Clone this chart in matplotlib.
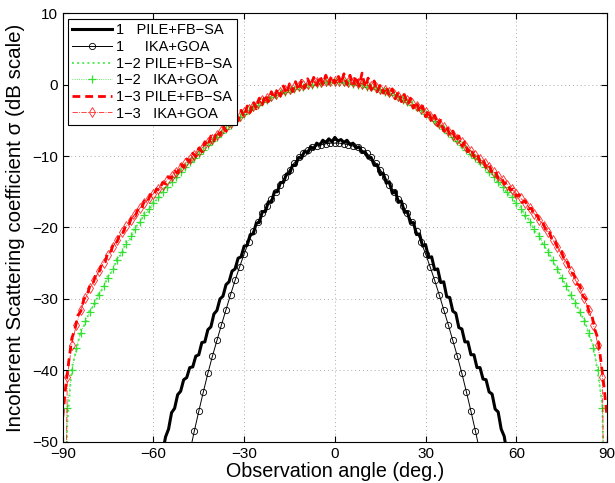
import numpy as np
import matplotlib
matplotlib.use("Agg")
import matplotlib.pyplot as plt

plt.rcParams["font.family"] = ["Liberation Sans", "DejaVu Sans"]
plt.rcParams["axes.unicode_minus"] = True

# angle grids (deg.)
ang_pile1 = np.arange(-57, 58, 1)
ang_pile13 = np.arange(-90, 91, 1)
ang_ika = np.arange(-90, 90.1, 1.5)
ang_ika1 = np.arange(-48, 48.1, 1.5)

# 1  PILE+FB-SA  (dB)
pile_1 = [-51.6, -49.3, -48.2, -45.9, -45.3, -43.4, -42.9, -41.3, -41.0, -39.6,
          -39.5, -38.0, -37.8, -36.1, -36.0, -34.3, -33.9, -32.1, -31.6, -30.0,
          -29.6, -28.0, -27.6, -26.1, -25.8, -24.3, -24.1, -22.6, -22.5, -21.0,
          -20.9, -19.4, -19.3, -17.8, -17.8, -16.4, -16.5, -15.0, -15.0, -13.7,
          -13.7, -12.5, -12.5, -11.3, -11.3, -10.2, -10.3, -9.3, -9.6, -8.7,
          -9.0, -8.2, -8.5, -7.8, -8.1, -7.6, -8.0,
          -7.4,
          -7.9, -7.7, -8.1, -7.8, -8.4, -8.2, -8.9, -8.7, -9.5, -9.4,
          -10.3, -10.2, -11.3, -11.2, -12.6, -12.4, -13.8, -13.6, -15.2, -14.9,
          -16.5, -16.3, -17.9, -17.8, -19.4, -19.3, -21.0, -20.9, -22.6, -22.4,
          -24.2, -24.1, -25.9, -25.8, -27.7, -27.6, -29.7, -29.8, -31.7, -32.0,
          -34.0, -34.2, -36.0, -36.0, -37.8, -37.8, -39.6, -39.6, -41.2, -41.3,
          -43.0, -43.3, -45.4, -45.8, -48.2, -49.2, -51.8]

# 1  IKA+GOA
ika_1 = [-51.5, -48.5, -45.7, -43.0, -40.4, -38.0, -35.8, -33.6, -31.5, -29.4,
         -27.4, -25.5, -23.7, -22.0, -20.5, -19.2, -18.0, -17.0, -16.0, -15.0,
         -14.0, -12.9, -11.9, -11.0, -10.2, -9.6, -9.2, -8.8, -8.6, -8.4,
         -8.3, -8.2,
         -8.2,
         -8.2, -8.3, -8.4, -8.6, -8.8, -9.2, -9.6, -10.2, -11.0, -11.9,
         -12.9, -14.0, -15.0, -16.0, -17.0, -18.0, -19.2, -20.5, -22.0, -23.7,
         -25.5, -27.4, -29.4, -31.5, -33.6, -35.8, -38.0, -40.4, -43.0, -45.7,
         -48.5, -51.5]

# 1-2  PILE+FB-SA
pile_12 = [-100, -47.5, -39.6, -37.2, -34.3, -33.5, -31.4, -31.0, -29.0, -28.6,
           -26.6, -26.2, -24.2, -23.8, -21.9, -21.6, -19.8, -19.6, -17.9, -17.8,
           -16.2, -16.2, -14.6, -14.7, -13.2, -13.3, -11.8, -11.9, -10.5, -10.7,
           -9.3, -9.5, -8.1, -8.3, -6.9, -7.2, -5.8, -6.0, -4.7, -5.0,
           -3.7, -4.0, -2.8, -3.2, -2.0, -2.5, -1.4, -1.9, -0.8, -1.4,
           -0.4, -1.0, 0.0, -0.7, 0.3, -0.4, 0.5, -0.2, 0.7, 0.0,
           0.6,
           0.9, 0.0, 0.8, -0.2, 0.7, -0.4, 0.3, -0.8, -0.1, -1.2,
           -0.5, -1.6, -1.0, -2.2, -1.6, -2.8, -2.3, -3.6, -3.2, -4.5,
           -4.2, -5.5, -5.2, -6.6, -6.4, -7.7, -7.5, -8.9, -8.7, -10.1,
           -9.9, -11.3, -11.1, -12.6, -12.5, -14.0, -13.9, -15.4, -15.4, -17.0,
           -17.0, -18.7, -18.8, -20.6, -20.8, -22.7, -23.0, -25.0, -25.4, -27.4,
           -27.8, -29.8, -30.2, -32.2, -32.7, -35.1, -36.4, -40.5, -44.8, -100]

# 1-2  IKA+GOA
ika_12 = [-100, -45.3, -40.0, -36.8, -34.7, -33.1, -31.8, -30.6, -29.4, -28.2,
          -27.0, -25.8, -24.6, -23.4, -22.3, -21.2, -20.2, -19.2, -18.3, -17.4,
          -16.6, -15.8, -15.0, -14.3, -13.6, -12.9, -12.2, -11.5, -10.9, -10.3,
          -9.7, -9.1, -8.5, -7.9, -7.3, -6.8, -6.2, -5.6, -5.1, -4.6,
          -4.1, -3.6, -3.2, -2.8, -2.4, -2.1, -1.8, -1.5, -1.2, -1.0,
          -0.8, -0.6, -0.4, -0.3, -0.1, 0.0, 0.1, 0.2, 0.3, 0.3,
          0.3,
          0.3, 0.3, 0.2, 0.1, 0.0, -0.1, -0.3, -0.4, -0.6, -0.8,
          -1.0, -1.2, -1.5, -1.8, -2.1, -2.4, -2.8, -3.2, -3.6, -4.1,
          -4.6, -5.1, -5.6, -6.2, -6.8, -7.3, -7.9, -8.5, -9.1, -9.7,
          -10.3, -10.9, -11.5, -12.2, -12.9, -13.6, -14.3, -15.0, -15.8, -16.6,
          -17.4, -18.3, -19.2, -20.2, -21.2, -22.3, -23.4, -24.6, -25.8, -27.0,
          -28.2, -29.4, -30.6, -31.8, -33.1, -34.7, -36.8, -40.0, -45.3, -100]

# 1-3  PILE+FB-SA
pile_13 = [-46.5, -42.2, -38.7, -35.5, -34.3, -32.3, -31.7, -30.0, -29.6, -28.1,
           -27.9, -26.5, -26.3, -24.9, -24.8, -23.4, -23.3, -22.0, -22.0, -20.7,
           -20.7, -19.5, -19.5, -18.3, -18.4, -17.3, -17.4, -16.3, -16.5, -15.4,
           -15.6, -14.6, -14.8, -13.7, -13.9, -12.9, -13.1, -12.1, -12.4, -11.2,
           -11.6, -10.4, -10.8, -9.6, -10.1, -8.9, -9.4, -8.0, -8.6, -7.2,
           -7.9, -6.5, -7.1, -5.8, -6.5, -5.0, -5.8, -4.3, -5.1, -3.6,
           -4.5, -3.0, -3.9, -2.4, -3.4, -1.9, -2.8, -1.4, -2.4, -1.0,
           -2.0, -0.6, -1.6, -0.2, -1.3, 0.1, -1.0, 0.4, -0.8, 0.6,
           -0.5, 0.8, -0.3, 1.0, -0.1, 1.2, 0.0, 1.3, 0.1, 1.2,
           0.2,
           1.3, 0.1, 1.5, 0.0, 1.3, -0.1, 1.2, -0.2, 1.6, -0.4,
           0.9, -0.7, 0.5, -1.0, 0.0, -1.2, -0.3, -1.6, -0.6, -2.0,
           -1.0, -2.4, -1.4, -2.8, -1.9, -3.3, -2.4, -3.9, -3.0, -4.5,
           -3.6, -5.2, -4.3, -5.8, -5.0, -6.5, -5.8, -7.1, -6.5, -7.9,
           -7.2, -8.6, -8.0, -9.4, -8.9, -10.1, -9.6, -10.8, -10.4, -11.6,
           -11.2, -12.4, -12.1, -13.1, -12.9, -13.9, -13.7, -14.8, -14.6, -15.6,
           -15.4, -16.5, -16.3, -17.4, -17.3, -18.4, -18.3, -19.5, -19.5, -20.7,
           -20.7, -22.0, -22.0, -23.3, -23.4, -24.8, -24.9, -26.3, -26.5, -27.9,
           -28.1, -29.6, -30.0, -31.7, -32.3, -34.3, -35.5, -38.7, -42.2, -46.5]

# 1-3  IKA+GOA
ika_13 = [-100, -40.9, -36.4, -33.6, -31.5, -29.9, -28.5, -27.3, -26.1, -24.9,
          -23.8, -22.7, -21.7, -20.7, -19.8, -18.9, -18.1, -17.3, -16.6, -15.9,
          -15.3, -14.6, -14.0, -13.4, -12.8, -12.2, -11.6, -11.0, -10.4, -9.9,
          -9.3, -8.7, -8.1, -7.6, -7.0, -6.5, -5.9, -5.4, -4.9, -4.4,
          -3.9, -3.4, -3.0, -2.6, -2.2, -1.9, -1.6, -1.3, -1.0, -0.8,
          -0.6, -0.4, -0.2, -0.1, 0.1, 0.2, 0.3, 0.4, 0.5, 0.5,
          0.5,
          0.5, 0.5, 0.4, 0.3, 0.2, 0.1, -0.1, -0.2, -0.4, -0.6,
          -0.8, -1.0, -1.3, -1.6, -1.9, -2.2, -2.6, -3.0, -3.4, -3.9,
          -4.4, -4.9, -5.4, -5.9, -6.5, -7.0, -7.6, -8.1, -8.7, -9.3,
          -9.9, -10.4, -11.0, -11.6, -12.2, -12.8, -13.4, -14.0, -14.6, -15.3,
          -15.9, -16.6, -17.3, -18.1, -18.9, -19.8, -20.7, -21.7, -22.7, -23.8,
          -24.9, -26.1, -27.3, -28.5, -29.9, -31.5, -33.6, -36.4, -40.9, -100]

green = "#33e033"

fig = plt.figure(figsize=(6.15, 4.83), dpi=100)
ax = fig.add_axes([0.102, 0.085, 0.885, 0.888])

ax.plot(ang_pile1, pile_1, color="black", lw=2.2, label="1   PILE+FB\u2212SA")
ax.plot(ang_ika1, ika_1, color="black", lw=0.7, marker="o", ms=4.5,
        mfc="none", mew=0.6, label="1     IKA+GOA")
ax.plot(ang_ika, pile_12, color="#55ee55", lw=1.4, ls=":", label="1\u22122 PILE+FB\u2212SA")
ax.plot(ang_ika, ika_12, color=green, lw=0.6, ls=":", marker="+", ms=5.5,
        mew=0.9, label="1\u22122   IKA+GOA")
ax.plot(ang_pile13, pile_13, color="red", lw=2.0, dashes=(2.8, 1.8), label="1\u22123 PILE+FB\u2212SA")
ax.plot(ang_ika, ika_13, color="red", lw=0.6, ls="-.", marker="d", ms=5.5,
        mfc="none", mew=0.6, alpha=0.85, label="1\u22123   IKA+GOA")

ax.set_xlim(-90, 90)
ax.set_ylim(-50, 10)
ax.set_xticks(np.arange(-90, 91, 30))
ax.set_yticks(np.arange(-50, 11, 10))
ax.tick_params(direction="in", top=True, right=True, length=4, labelsize=11)
ax.grid(True, color="#aaaaaa", ls=(0, (1, 3)), lw=0.7)
for s in ax.spines.values():
    s.set_linewidth(0.8)

ax.set_xlabel("Observation angle (deg.)", fontsize=14.2, labelpad=1)
ax.set_ylabel("Incoherent Scattering coefficient \u03c3 (dB scale)", fontsize=14.8, labelpad=5)

leg = ax.legend(loc="upper left", bbox_to_anchor=(0.009, 0.986), borderaxespad=0,
                fontsize=10.5, fancybox=False, framealpha=1, edgecolor="black",
                handlelength=2.75, handletextpad=0.3, labelspacing=0.18, borderpad=0.3)
leg.get_frame().set_linewidth(0.8)

fig.savefig("out.png", dpi=100)
